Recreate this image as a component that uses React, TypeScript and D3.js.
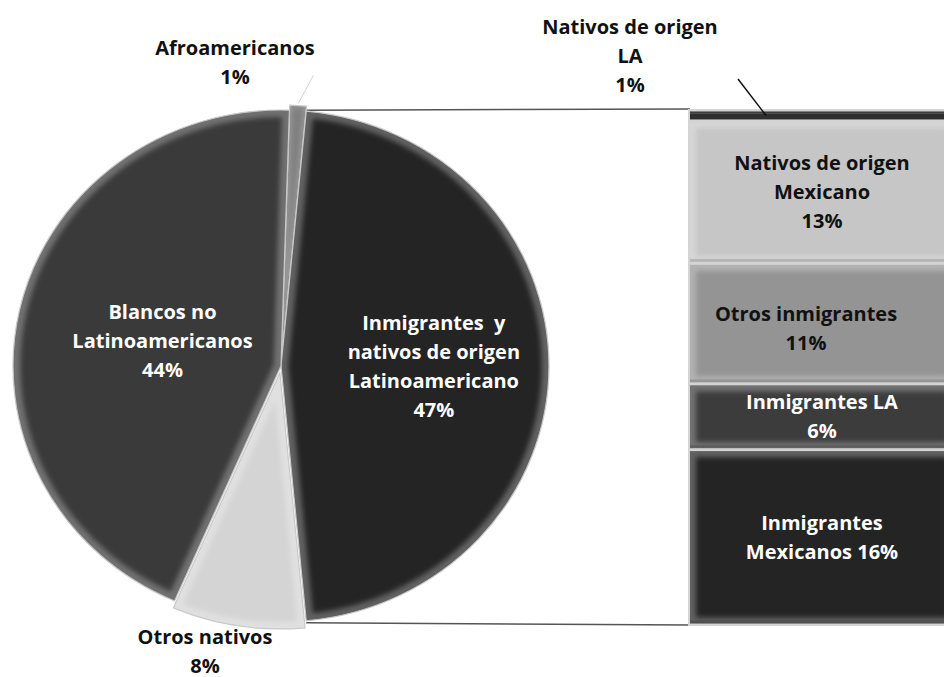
import React from "react";
import * as d3 from "d3";

// ---------- DATA ----------
const pieCategories = [
  "Afroamericanos",
  "Inmigrantes y nativos de origen Latinoamericano",
  "Otros nativos",
  "Blancos no Latinoamericanos",
];
const pieValues = [1, 47, 8, 44];
const pieLabelLines = [
  ["Afroamericanos", "1%"],
  ["Inmigrantes  y", "nativos de origen", "Latinoamericano", "47%"],
  ["Otros nativos", "8%"],
  ["Blancos no", "Latinoamericanos", "44%"],
];

const barCategories = [
  "Nativos de origen LA",
  "Nativos de origen Mexicano",
  "Otros inmigrantes",
  "Inmigrantes LA",
  "Inmigrantes Mexicanos",
];
const barValues = [1, 13, 11, 6, 16];
const barLabelLines = [
  ["Nativos de origen", "LA", "1%"],
  ["Nativos de origen", "Mexicano", "13%"],
  ["Otros inmigrantes", "11%"],
  ["Inmigrantes LA", "6%"],
  ["Inmigrantes", "Mexicanos 16%"],
];

// ---------- STYLE ----------
const pieColors = ["#7e7e7e", "#242424", "#d4d4d4", "#3a3a3a"];
const pieTextColors = ["#111", "#fff", "#111", "#fff"];
const barColors = ["#2e2e2e", "#c6c6c6", "#949494", "#3c3c3c", "#242424"];
const barTextColors = ["#111", "#111", "#111", "#fff", "#fff"];

const W = 944;
const H = 677;
const FONT = "'Open Sans', 'DejaVu Sans', sans-serif";
const FS = 20;
const LH = 29;

export default function App() {
  const cx = 281;
  const cy = 366;
  const ry = 256;
  const rx = 268;
  const sx = rx / ry;

  const total = d3.sum(pieValues);
  // Latino slice (index 1) centered on the right side (3 o'clock)
  const startDeg = 90 - ((pieValues[0] + pieValues[1] / 2) / total) * 360;
  const start = (startDeg * Math.PI) / 180;
  const pie = d3
    .pie<number>()
    .sort(null)
    .startAngle(start)
    .endAngle(start + Math.PI * 2);
  const arcs = pie(pieValues);
  const arc = d3.arc<d3.PieArcDatum<number>>().innerRadius(0).outerRadius(ry);

  const explode = [5, 0, 7, 0];
  const labelR = [0, 146, 0, 116];

  const toScreen = (a: number, r: number) => [
    cx + Math.sin(a) * r * sx,
    cy - Math.cos(a) * r,
  ];

  // bar
  const barX = 690;
  const barW = 264;
  const barTop = 110;
  const barBottom = 625;
  const y = d3
    .scaleLinear()
    .domain([0, d3.sum(barValues)])
    .range([barTop, barBottom]);
  const cum: number[] = [];
  barValues.reduce((acc, v) => {
    cum.push(acc);
    return acc + v;
  }, 0);

  const lat = arcs[1];
  const [lx0, ly0] = toScreen(lat.startAngle, ry);
  const [lx1, ly1] = toScreen(lat.endAngle, ry);

  const renderLines = (
    lines: string[],
    x: number,
    yc: number,
    color: string,
    key: string
  ) => {
    const y0 = yc - ((lines.length - 1) * LH) / 2 + 7;
    return (
      <text
        key={key}
        x={x}
        textAnchor="middle"
        fontFamily={FONT}
        fontWeight="bold"
        fontSize={FS}
        fill={color}
        style={{ whiteSpace: "pre" }}
      >
        {lines.map((l, i) => (
          <tspan key={i} x={x} y={y0 + i * LH}>
            {l}
          </tspan>
        ))}
      </text>
    );
  };

  // afro leader
  const afro = arcs[0];
  const afroMid = (afro.startAngle + afro.endAngle) / 2;
  const [afx, afy] = toScreen(afroMid, ry + explode[0] + 2);

  return (
    <svg
      width={W}
      height={H}
      style={{ position: "fixed", left: 0, top: 0, background: "#fff" }}
    >
      <defs>
        <filter id="blur" x="-20%" y="-20%" width="140%" height="140%">
          <feGaussianBlur stdDeviation="2.5" />
        </filter>
        {arcs.map((a, i) => (
          <clipPath id={`pclip${i}`} key={i}>
            <path d={arc(a) || ""} />
          </clipPath>
        ))}
        {barValues.map((v, i) => (
          <clipPath id={`bclip${i}`} key={i}>
            <rect
              x={barX}
              y={y(cum[i]) + 1.5}
              width={barW}
              height={Math.max(0, y(cum[i] + v) - y(cum[i]) - 3)}
            />
          </clipPath>
        ))}
      </defs>

      {/* connector lines */}
      <line x1={lx0} y1={ly0 - 1} x2={barX} y2={barTop - 1} stroke="#555" strokeWidth={1.5} />
      <line x1={lx1} y1={ly1 + 2} x2={barX} y2={barBottom} stroke="#555" strokeWidth={1.5} />

      {/* pie */}
      <g transform={`translate(${cx},${cy}) scale(${sx},1)`}>
        {arcs.map((a, i) => {
          const mid = (a.startAngle + a.endAngle) / 2;
          const dx = Math.sin(mid) * explode[i];
          const dy = -Math.cos(mid) * explode[i];
          const d = arc(a) || "";
          return (
            <g key={i} transform={`translate(${dx},${dy})`}>
              <path d={d} fill={pieColors[i]} />
              <g clipPath={`url(#pclip${i})`}>
                <path
                  d={d}
                  fill="none"
                  stroke="#fff"
                  strokeOpacity={i === 0 ? 0.18 : 0.28}
                  strokeWidth={i === 0 ? 6 : 14}
                  filter="url(#blur)"
                />
              </g>
              <path
                d={d}
                fill="none"
                stroke="#c9c9c9"
                strokeWidth={1.2}
                vectorEffect="non-scaling-stroke"
              />
            </g>
          );
        })}
      </g>

      {/* bar */}
      <rect x={barX - 2} y={barTop - 1} width={barW + 4} height={barBottom - barTop + 2} fill="#d4d4d4" />
      {barValues.map((v, i) => {
        const y0 = y(cum[i]) + 1.5;
        const h = Math.max(0, y(cum[i] + v) - y(cum[i]) - 3);
        const thin = h < 20;
        return (
          <g key={i}>
            <rect x={barX} y={y0} width={barW} height={h} fill={barColors[i]} />
            {!thin && (
              <g clipPath={`url(#bclip${i})`}>
                <rect
                  x={barX}
                  y={y0}
                  width={barW}
                  height={h}
                  fill="none"
                  stroke="#fff"
                  strokeOpacity={0.28}
                  strokeWidth={12}
                  filter="url(#blur)"
                />
                <rect x={barX} y={y0 + h - 3} width={barW} height={3} fill="#000" fillOpacity={0.15} />
              </g>
            )}
            {thin && (
              <rect x={barX} y={y0 + 1} width={barW} height={1.5} fill="#fff" fillOpacity={0.15} />
            )}
          </g>
        );
      })}

      {/* leader lines */}
      <line
        x1={afx}
        y1={afy}
        x2={afx + 15}
        y2={afy - 28}
        stroke="#d0d0d0"
        strokeWidth={1}
      />
      <line
        x1={barX + 76}
        y1={(y(cum[0]) + y(cum[0] + barValues[0])) / 2}
        x2={barX + 48}
        y2={barTop - 31}
        stroke="#111"
        strokeWidth={1.5}
      />

      {/* pie labels */}
      {arcs.map((a, i) => {
        const mid = (a.startAngle + a.endAngle) / 2;
        if (labelR[i] > 0) {
          const [x, yy] = toScreen(mid, labelR[i]);
          return renderLines(pieLabelLines[i], x, yy, pieTextColors[i], `pl${i}`);
        }
        return null;
      })}
      {renderLines(pieLabelLines[0], cx - 46, cy - ry - 48, pieTextColors[0], "afro")}
      {renderLines(pieLabelLines[2], cx - 76, cy + ry + 29, pieTextColors[2], "otros")}

      {/* bar labels */}
      {renderLines(barLabelLines[0], barX - 60, barTop - 54, barTextColors[0], "bl0")}
      {barValues.map((v, i) => {
        if (i === 0) return null;
        const yc = (y(cum[i]) + y(cum[i] + v)) / 2;
        const xc = barX + barW / 2 - (i === 2 ? 16 : 0);
        return renderLines(barLabelLines[i], xc, yc + (i === 2 ? 5 : 0), barTextColors[i], `bl${i}`);
      })}
    </svg>
  );
}
